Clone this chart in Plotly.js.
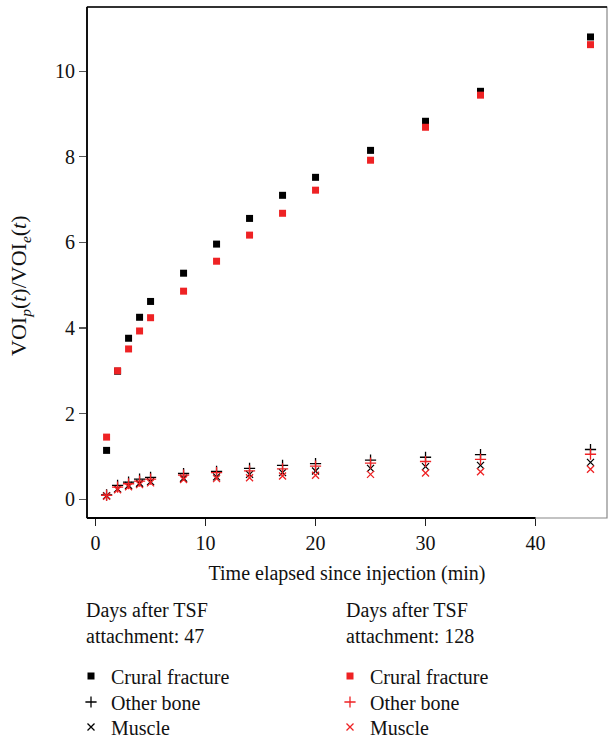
<!DOCTYPE html>
<html>
<head>
<meta charset="utf-8">
<script src="https://cdn.plot.ly/plotly-3.0.1.min.js"></script>
<style>body{margin:0;padding:0;background:#fff}#chart{width:608px;height:738px}</style>
</head>
<body>
<div id="chart"></div>
<script>
var times = [1, 2, 3, 4, 5, 8, 11, 14, 17, 20, 25, 30, 35, 45];

var fracture47 = [1.14, 2.99, 3.76, 4.25, 4.62, 5.28, 5.96, 6.56, 7.10, 7.52, 8.15, 8.83, 9.53, 10.80];
var bone47     = [0.10, 0.32, 0.40, 0.47, 0.51, 0.60, 0.65, 0.72, 0.79, 0.83, 0.91, 0.98, 1.04, 1.16];
var muscle47   = [0.08, 0.24, 0.32, 0.37, 0.41, 0.49, 0.52, 0.58, 0.62, 0.66, 0.72, 0.76, 0.79, 0.86];

var fracture128 = [1.45, 3.00, 3.51, 3.93, 4.24, 4.86, 5.56, 6.17, 6.68, 7.22, 7.92, 8.69, 9.44, 10.62];
var bone128     = [0.09, 0.28, 0.36, 0.42, 0.47, 0.56, 0.62, 0.66, 0.71, 0.77, 0.84, 0.88, 0.93, 1.05];
var muscle128   = [0.07, 0.22, 0.29, 0.34, 0.38, 0.46, 0.48, 0.50, 0.54, 0.56, 0.58, 0.61, 0.64, 0.70];

var xTicks = [0, 10, 20, 30, 40];
var yTicks = [0, 2, 4, 6, 8, 10];

var BLACK = '#000000';
var RED = '#ee2224';
var FONT = 'Liberation Serif, Times New Roman, serif';
var FS = 20;

function sq(name, y, color, leg) {
  return {x: times, y: y, type: 'scatter', mode: 'markers', name: name, legend: leg,
    marker: {symbol: 'square', size: 7, color: color, line: {width: 0}}};
}
function plus(name, y, color, leg) {
  return {x: times, y: y, type: 'scatter', mode: 'markers', name: name, legend: leg,
    marker: {symbol: 'cross-thin-open', size: 8, color: color, line: {width: 1.3, color: color}}};
}
function cross(name, y, color, leg) {
  return {x: times, y: y, type: 'scatter', mode: 'markers', name: name, legend: leg,
    marker: {symbol: 'x-thin-open', size: 7, color: color, line: {width: 1.3, color: color}}};
}

var data = [
  sq('Crural fracture', fracture47, BLACK, 'legend'),
  plus('Other bone', bone47, BLACK, 'legend2'),
  cross('Muscle', muscle47, BLACK, 'legend3'),
  sq('Crural fracture', fracture128, RED, 'legend4'),
  plus('Other bone', bone128, RED, 'legend5'),
  cross('Muscle', muscle128, RED, 'legend6')
];

// legend rows (pixel centres in the figure) and column left edges
var rowY = [676, 702, 727];
var colX = [71, 330];
var H = 511, T = 7, L = 87, W = 520;

function leg(col, row) {
  return {
    font: {family: FONT, size: FS, color: '#111'},
    bgcolor: 'rgba(0,0,0,0)',
    itemwidth: 30,
    xanchor: 'left', yanchor: 'middle',
    x: (colX[col] - L) / W,
    y: 1 - (rowY[row] - T) / H
  };
}

var layout = {
  width: 608, height: 738,
  margin: {l: 87, r: 1, t: 7, b: 220, autoexpand: false},
  paper_bgcolor: '#fff', plot_bgcolor: '#fff',
  font: {family: FONT, size: FS, color: '#111'},
  showlegend: true,
  legend: leg(0, 0), legend2: leg(0, 1), legend3: leg(0, 2),
  legend4: leg(1, 0), legend5: leg(1, 1), legend6: leg(1, 2),
  xaxis: {
    range: [-0.78, 46.5], tickvals: xTicks, ticktext: xTicks.map(String),
    ticks: 'outside', ticklen: 7, tickwidth: 1.2, tickcolor: '#222',
    showgrid: false, zeroline: false, showline: false, automargin: false,
    tickfont: {family: FONT, size: FS, color: '#111'},
    title: {text: 'Time elapsed since injection (min)', font: {family: FONT, size: FS, color: '#111'}, standoff: 12}
  },
  yaxis: {
    range: [-0.44, 11.5], tickvals: yTicks, ticktext: yTicks.map(String),
    ticks: 'outside', ticklen: 7, tickwidth: 1.2, tickcolor: '#555',
    showgrid: false, zeroline: false, showline: false, automargin: false,
    tickfont: {family: FONT, size: FS, color: '#111'}
  },
  shapes: [
    {type: 'rect', xref: 'paper', yref: 'paper', x0: 0, x1: 1, y0: 0, y1: 1, line: {color: '#888', width: 1.2}},
    {type: 'line', xref: 'paper', yref: 'paper', x0: 0, x1: 1, y0: 1, y1: 1, line: {color: '#000', width: 1.6}},
    {type: 'line', xref: 'paper', yref: 'paper', x0: 0, x1: 0, y0: 0, y1: 1, line: {color: '#000', width: 1.8}},
    {type: 'line', xref: 'x', yref: 'paper', x0: -0.78, x1: 40, y0: 0, y1: 0, line: {color: '#000', width: 2}}
  ],
  annotations: [
    {xref: 'paper', yref: 'paper', x: -0.128, y: 0.455, xanchor: 'center', yanchor: 'middle', textangle: -90,
     showarrow: false, font: {family: FONT, size: 22, color: '#111'},
     text: 'VOI<sub><i>p</i></sub>(<i>t</i>)/VOI<sub><i>e</i></sub>(<i>t</i>)'},
    {xref: 'paper', yref: 'paper', x: -0.006, y: -0.155, xanchor: 'left', yanchor: 'top', align: 'left',
     showarrow: false, font: {family: FONT, size: FS, color: '#111'},
     text: 'Days after TSF<br>attachment: 47'},
    {xref: 'paper', yref: 'paper', x: 0.494, y: -0.155, xanchor: 'left', yanchor: 'top', align: 'left',
     showarrow: false, font: {family: FONT, size: FS, color: '#111'},
     text: 'Days after TSF<br>attachment: 128'}
  ]
};

Plotly.newPlot('chart', data, layout, {displayModeBar: false, staticPlot: true});
</script>
</body>
</html>
